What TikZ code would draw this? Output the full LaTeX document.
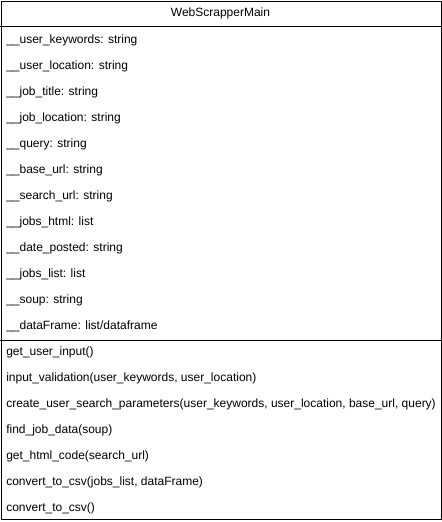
\documentclass[tikz,border=0pt]{standalone}
\usepackage{fontspec}
\setmainfont{Liberation Sans}
\begin{document}
\begin{tikzpicture}[x=0.75pt,y=-0.75pt,
  member/.style={anchor=west,inner sep=0pt,font=\fontsize{9}{10}\selectfont},
  boxline/.style={draw=black,line width=0.75pt}]
\useasboundingbox (0,0) rectangle (442,522);
\node[draw=black,line width=0.75pt,minimum width=440*0.75pt,minimum height=518*0.75pt,anchor=north west,inner sep=0pt] (cls) at (0.5,0.5) {};
\node[font=\fontsize{9}{10}\selectfont,inner sep=0pt] (title) at (220.5,13.5) {WebScrapperMain};
\coordinate (h1l) at (0.5,26.5); \coordinate (h1r) at (440.5,26.5);
\coordinate (h2l) at (0.5,340); \coordinate (h2r) at (440.5,340);
\draw[boxline] (h1l) -- (h1r);
\draw[boxline] (h2l) -- (h2r);
\node[member] (a1) at (6,40.5) {\_\_user\_keywords: string};
\node[member] (a2) at (6,66.5) {\_\_user\_location: string};
\node[member] (a3) at (6,92.5) {\_\_job\_title: string};
\node[member] (a4) at (6,118.5) {\_\_job\_location: string};
\node[member] (a5) at (6,144.5) {\_\_query: string};
\node[member] (a6) at (6,170.5) {\_\_base\_url: string};
\node[member] (a7) at (6,196.5) {\_\_search\_url: string};
\node[member] (a8) at (6,222.5) {\_\_jobs\_html: list};
\node[member] (a9) at (6,248.5) {\_\_date\_posted: string};
\node[member] (a10) at (6,274.5) {\_\_jobs\_list: list};
\node[member] (a11) at (6,300.5) {\_\_soup: string};
\node[member] (a12) at (6,326.5) {\_\_dataFrame: list/dataframe};
\node[member] (m1) at (6,352.5) {get\_user\_input()};
\node[member] (m2) at (6,378.5) {input\_validation(user\_keywords, user\_location)};
\node[member] (m3) at (6,404.5) {create\_user\_search\_parameters(user\_keywords, user\_location, base\_url, query)};
\node[member] (m4) at (6,430.5) {find\_job\_data(soup)};
\node[member] (m5) at (6,456.5) {get\_html\_code(search\_url)};
\node[member] (m6) at (6,482.5) {convert\_to\_csv(jobs\_list, dataFrame)};
\node[member] (m7) at (6,508.5) {convert\_to\_csv()};
\end{tikzpicture}
\end{document}
